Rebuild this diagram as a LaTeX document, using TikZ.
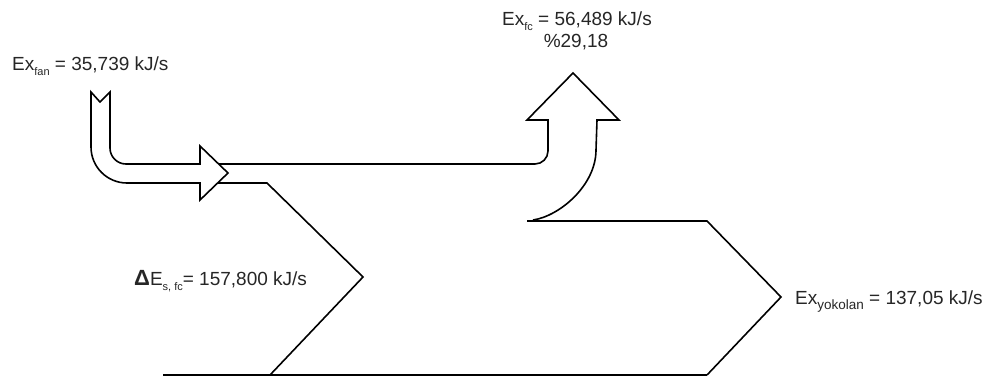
\documentclass[tikz,border=0pt]{standalone}
\usepackage{fontspec}
\setmainfont{Liberation Sans}
\begin{document}
\begin{tikzpicture}[x=1pt,y=-1pt,
  flow/.style={draw=black,line width=1.6pt,line join=miter},
  lbl/.style={anchor=base west,inner sep=0pt,text=black!85,font=\fontsize{19}{22}\selectfont},
  lblc/.style={anchor=base,inner sep=0pt,text=black!85,font=\fontsize{19}{22}\selectfont}]
\newcommand{\lo}[2][11]{\raisebox{-0.28em}{\fontsize{#1}{12}\selectfont #2}}
\useasboundingbox (0,0) rectangle (1003,376);

% fan input arrow (bent, notched tail)
\draw[flow,fill=white] (91,92) -- (100,102) -- (110,92) -- (110,148)
  arc[start angle=180,end angle=90,radius=16] -- (200,164) -- (200,146)
  -- (228,173) -- (200,200) -- (200,183) -- (127,183)
  arc[start angle=90,end angle=180,radius=36] -- cycle;

% main band, upper edge into the rising output arrow
\draw[flow] (219,164) -- (535,164) arc[start angle=90,end angle=0,radius=13]
  -- (548,120) -- (527,120) -- (573,73) -- (619,120) -- (597,120) -- (596,150)
  .. controls (596,185) and (560,216) .. (533,220);

% lower part of the band with the two chevrons
\draw[flow] (218,183) -- (267,183) -- (363,277) -- (270,375);
\draw[flow] (527,221) -- (707,221) -- (781,297) -- (707,375);
\draw[flow] (163,375) -- (707,375);

% labels
\node[lbl] (fan) at (12,70) {Ex\lo{fan} = 35,739 kJ/s};
\node[lblc] (fc) at (577,25) {Ex\lo{fc} = 56,489 kJ/s};
\node[lblc] (pct) at (576,47) {\%29,18};
\node[lbl] (des) at (134,285) {{\fontsize{22}{22}\selectfont\textbf{Δ}}E\lo{s, fc}= 157,800 kJ/s};
\node[lbl] (yok) at (795,304) {Ex\lo[13.5]{yokolan} = 137,05 kJ/s};
\end{tikzpicture}
\end{document}
